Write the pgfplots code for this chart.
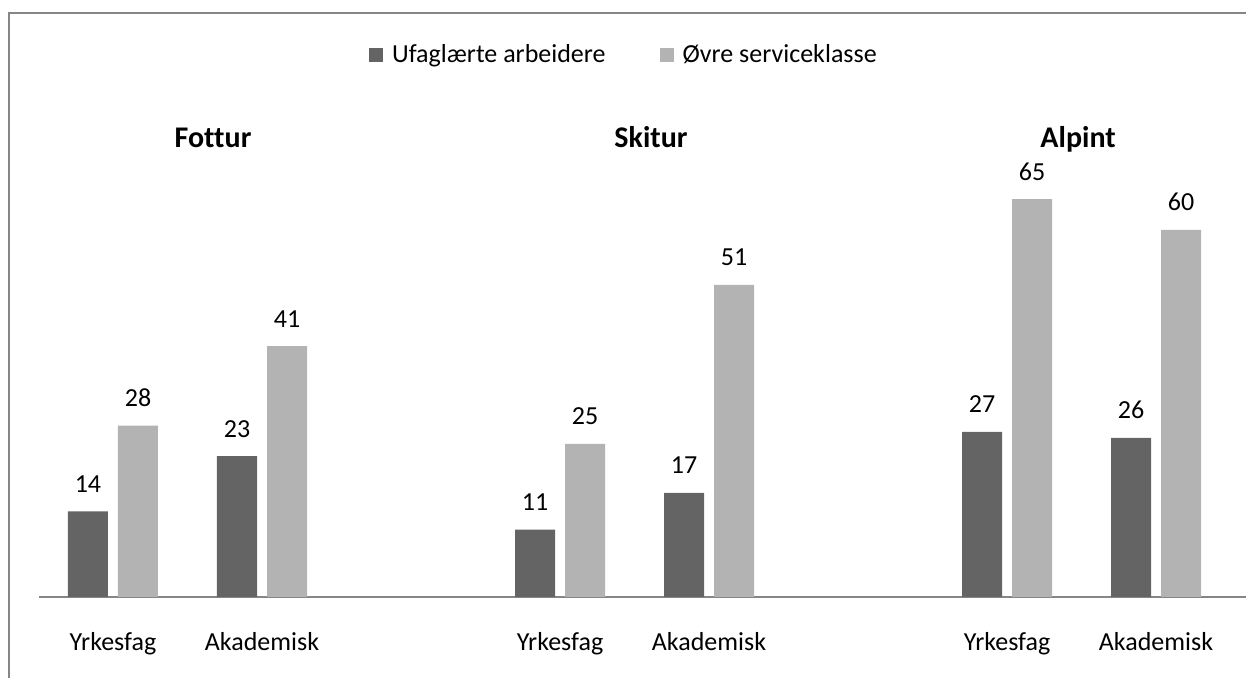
\documentclass[border=0pt]{standalone}
\usepackage{pgfplots}
\pgfplotsset{compat=1.18}
\usepackage{fontspec}
\setmainfont{Carlito}[Ligatures=NoCommon]
\definecolor{darkbar}{HTML}{646464}
\definecolor{lightbar}{HTML}{B3B3B3}
\definecolor{framegray}{HTML}{868686}

\begin{document}
\begin{tikzpicture}
\path[use as bounding box] (0,0) rectangle (623pt,339pt);
\draw[framegray, line width=1pt] (4.5pt,0) -- (4.5pt,332.5pt) -- (624pt,332.5pt);
\begin{axis}[
    at={(19.5pt,40.5pt)}, anchor=south west,
    scale only axis, width=604pt, height=244.8pt,
    xmin=-0.4966, xmax=7.6107, ymin=0, ymax=80,
    ybar=5pt, bar width=20pt,
    axis x line=bottom, axis y line=none,
    x axis line style={-, draw=framegray, line width=0.8pt},
    xtick={0,1,3,4,6,7},
    xticklabels={Yrkesfag,Akademisk,Yrkesfag,Akademisk,Yrkesfag,Akademisk},
    xtick style={draw=none},
    xticklabel style={font=\fontsize{13}{15}\selectfont, anchor=base, yshift=-24.5pt},
    ytick=\empty,
    /pgf/number format/assume math mode=true,
    nodes near coords,
    nodes near coords style={font=\fontsize{13}{15}\selectfont, black, anchor=base, yshift=9.5pt},
    clip=false,
    legend columns=2,
    legend style={at={(0.485,1.107)}, anchor=center, draw=none, fill=none,
        font=\fontsize{13}{15}\selectfont,
        /tikz/every even column/.append style={column sep=25pt}},
    legend image code/.code={\fill[#1] (0pt,-3.5pt) rectangle (7pt,3.5pt); \path (9.5pt,0pt);},
]
\addplot[fill=darkbar, draw=none] coordinates {
    (0,14) (1,23) (3,11) (4,17) (6,27) (7,26)
};
\addplot[fill=lightbar, draw=none] coordinates {
    (0,28) (1,41) (3,25) (4,51) (6,65) (7,60)
};
\legend{Ufaglærte arbeidere, Øvre serviceklasse}
\node[anchor=base, font=\fontsize{15}{18}\selectfont\bfseries] at (axis cs:0.671,73.5) {Fottur};
\node[anchor=base, font=\fontsize{15}{18}\selectfont\bfseries] at (axis cs:3.611,73.5) {Skitur};
\node[anchor=base, font=\fontsize{15}{18}\selectfont\bfseries] at (axis cs:6.477,73.5) {Alpint};
\end{axis}
\end{tikzpicture}
\end{document}
